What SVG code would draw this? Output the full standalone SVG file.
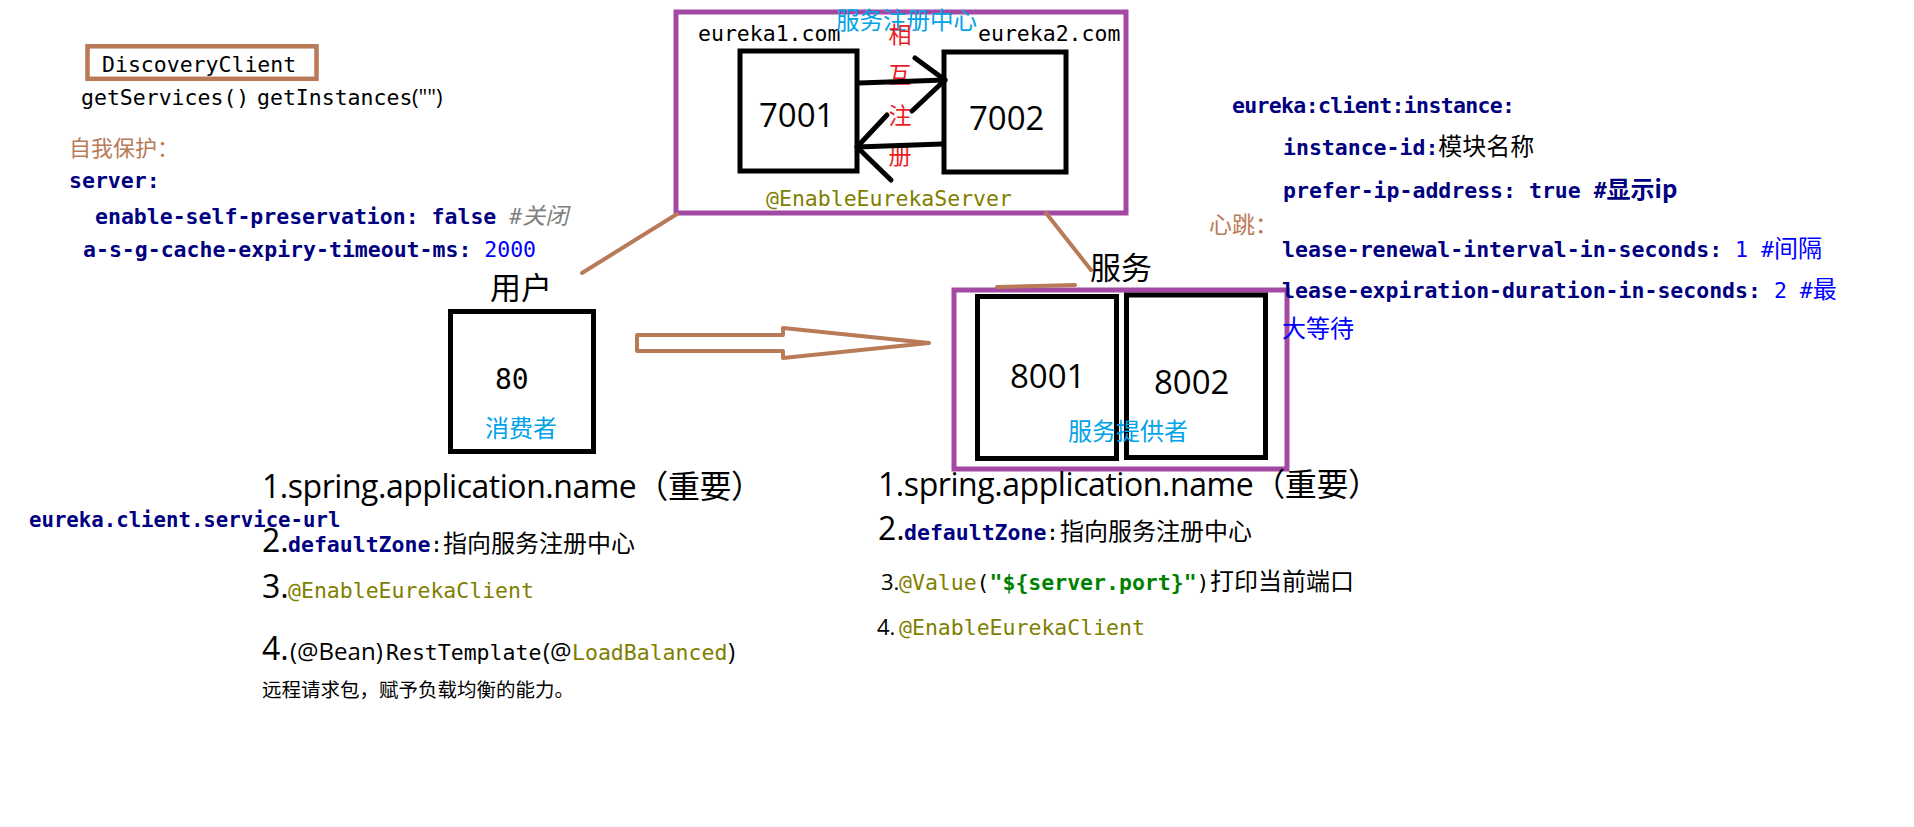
<svg xmlns="http://www.w3.org/2000/svg" width="1914" height="827" viewBox="0 0 1914 827">
<style>
.mono{font-family:"DejaVu Sans Mono","Liberation Mono",monospace;font-size:21.5px}
.b{font-weight:bold}
.navy{fill:#000080}
.olive{fill:#808000}
.green{fill:#008000}
.blue{fill:#0000ff}
.blk{fill:#000}
.cjk{font-family:"Noto Sans CJK SC",sans-serif}
.sans{font-family:"Open Sans","Noto Sans CJK SC",sans-serif}
.cyan{fill:#00a2e8}
.brn{fill:#b97a57}
.box{fill:none;stroke:#000;stroke-width:5}
.pbox{fill:none;stroke:#a349a4;stroke-width:5}
.bline{fill:none;stroke:#b97a57;stroke-width:4;stroke-linecap:round}
.karrow{fill:none;stroke:#000;stroke-width:5;stroke-linecap:round;stroke-linejoin:round}
</style>
<rect width="1914" height="827" fill="#fff"/>

<g id="discovery-client">
<rect x="87.5" y="46.3" width="229" height="32.5" fill="none" stroke="#b97a57" stroke-width="4.5"/>
<text x="102" y="71.5" class="mono blk">DiscoveryClient</text>
<text y="105" class="mono blk"><tspan x="81">getServices()</tspan><tspan x="257">getInstances</tspan><tspan x="412" class="sans" style="font-size:22px">("")</tspan></text>
</g>

<g id="self-preservation">
<text x="69" y="156" class="cjk brn" style="font-size:22px">自我保护：</text>
<text x="69" y="188" class="mono b navy">server:</text>
<text x="95" y="224" class="mono"><tspan class="b navy">enable-self-preservation: false </tspan><tspan fill="#808080" font-style="italic">#</tspan><tspan class="cjk" fill="#808080" font-style="italic" style="font-size:23px">关闭</tspan></text>
<text x="83" y="257" class="mono"><tspan class="b navy">a-s-g-cache-expiry-timeout-ms: </tspan><tspan class="blue">2000</tspan></text>
</g>

<g id="eureka-server">
<rect x="676" y="12" width="450" height="201" class="pbox"/>
<text x="698" y="41" class="mono blk">eureka1.com</text>
<text x="978" y="41" class="mono blk">eureka2.com</text>
<g id="eureka1">
<rect x="740" y="51" width="117" height="120" class="box"/>
<text x="759" y="127" class="sans blk" style="font-size:33px">7001</text>
</g>
<g id="eureka2">
<rect x="944" y="52" width="122" height="120" class="box"/>
<text x="969" y="130" class="sans blk" style="font-size:33px">7002</text>
</g>
<text x="836" y="29" class="cjk cyan" style="font-size:23.5px">服务注册中心</text>
<g class="cjk" fill="#ed1c24" style="font-size:23px" text-anchor="middle">
<text x="900" y="43">相</text>
<text x="900" y="83">互</text>
<text x="900" y="124">注</text>
<text x="900" y="164">册</text>
</g>
<text x="766" y="206" class="mono olive">@EnableEurekaServer</text>
</g>

<g id="consumer">
<text x="490" y="299" class="cjk blk" style="font-size:31px">用户</text>
<rect x="450.5" y="311.5" width="143" height="140" class="box"/>
<text x="495" y="389" class="mono blk" style="font-size:28px">80</text>
<text x="485" y="437" class="cjk cyan" style="font-size:24px">消费者</text>
</g>

<g id="provider">
<text x="1090" y="279" class="cjk blk" style="font-size:31px">服务</text>
<rect x="954" y="290" width="333" height="179" class="pbox"/>
<g id="provider-8001">
<rect x="977.5" y="296.5" width="139" height="162" class="box"/>
<text x="1010" y="388" class="sans blk" style="font-size:33px">8001</text>
</g>
<g id="provider-8002">
<rect x="1126.5" y="295" width="139" height="162.5" class="box"/>
<text x="1154" y="394" class="sans blk" style="font-size:33px">8002</text>
</g>
<text x="1068" y="440" class="cjk cyan" style="font-size:24px">服务提供者</text>
</g>

<g id="instance-config">
<text x="1232" y="113" class="mono b navy" textLength="283">eureka:client:instance:</text>
<text x="1283" y="155" class="mono"><tspan class="b navy">instance-id:</tspan><tspan class="cjk blk" style="font-size:24px">模块名称</tspan></text>
<text x="1283" y="198" class="mono b navy">prefer-ip-address: true #<tspan class="cjk" style="font-size:24px">显示ip</tspan></text>
<text x="1209" y="233" class="cjk brn" style="font-size:23px">心跳：</text>
<text x="1282" y="257" class="mono"><tspan class="b navy">lease-renewal-interval-in-seconds: </tspan><tspan class="blue">1 #</tspan><tspan class="cjk blue" style="font-size:24px">间隔</tspan></text>
<text x="1282" y="298" class="mono"><tspan class="b navy">lease-expiration-duration-in-seconds: </tspan><tspan class="blue">2 #</tspan><tspan class="cjk blue" style="font-size:24px">最</tspan></text>
<text x="1282" y="337" class="cjk blue" style="font-size:24px">大等待</text>
</g>

<g id="consumer-notes">
<text x="262" y="498" class="sans blk" style="font-size:32px" textLength="501">1.spring.application.name（重要）</text>
<text x="29" y="527" class="mono b navy" style="font-size:20.7px">eureka.client.service-url</text>
<text y="552" class="blk"><tspan x="262" class="sans" style="font-size:32px">2.</tspan><tspan x="288" class="mono b navy">defaultZone</tspan><tspan x="430" class="mono">:</tspan><tspan x="443" class="cjk" style="font-size:24px">指向服务注册中心</tspan></text>
<text y="598" class="blk"><tspan x="262" class="sans" style="font-size:32px">3.</tspan><tspan x="288" class="mono olive">@EnableEurekaClient</tspan></text>
<text y="660" class="blk"><tspan x="262" class="sans" style="font-size:32px">4.</tspan><tspan x="290" class="sans" style="font-size:24px">(@Bean)</tspan><tspan x="386" class="mono">RestTemplate</tspan><tspan x="543" class="sans" style="font-size:24px">(@</tspan><tspan x="572" class="mono olive">LoadBalanced</tspan><tspan x="728" class="sans" style="font-size:24px">)</tspan></text>
<text x="262" y="697" class="cjk blk" style="font-size:19.5px">远程请求包，赋予负载均衡的能力。</text>
</g>

<g id="provider-notes">
<text x="878" y="496" class="sans blk" style="font-size:32px" textLength="502">1.spring.application.name（重要）</text>
<text y="540" class="blk"><tspan x="878" class="sans" style="font-size:32px">2.</tspan><tspan x="904" class="mono b navy">defaultZone</tspan><tspan x="1046" class="mono">:</tspan><tspan x="1060" class="cjk" style="font-size:24px">指向服务注册中心</tspan></text>
<text y="590" class="blk"><tspan x="881" class="sans" style="font-size:22px">3.</tspan><tspan x="899" class="mono olive">@Value</tspan><tspan x="976.6" class="mono">(</tspan><tspan x="989.5" class="mono b green">"${server.port}"</tspan><tspan x="1196.6" class="mono">)</tspan><tspan x="1210" class="cjk" style="font-size:24px">打印当前端口</tspan></text>
<text y="635" class="blk"><tspan x="877" class="sans" style="font-size:22px">4.</tspan><tspan x="899" class="mono olive">@EnableEurekaClient</tspan></text>
</g>

<g id="connectors">
<line x1="582" y1="273" x2="677" y2="214" class="bline"/>
<line x1="1046" y1="213" x2="1091" y2="270" class="bline"/>
<line x1="997" y1="287" x2="1075" y2="285" class="bline" stroke-width="2.5"/>
<polygon points="637,335 783,335 783,328 929,343 783,358 783,351 637,351" class="bline" stroke-linejoin="round"/>
<polyline points="859,83 945,80" class="karrow"/>
<polyline points="915,58 945,80 912,111" class="karrow"/>
<polyline points="942,144 857,147" class="karrow"/>
<polyline points="887,115 857,147 891,180" class="karrow"/>
</g>
</svg>
